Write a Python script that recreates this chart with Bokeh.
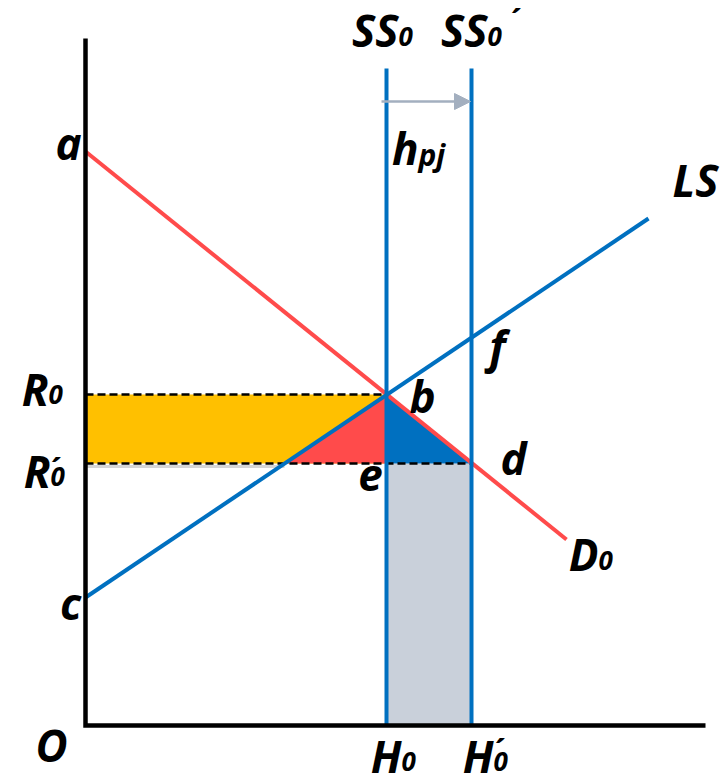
import numpy as np
from bokeh.plotting import figure
from bokeh.models import Range1d, Arrow, NormalHead
from bokeh.core.properties import value
from bokeh.embed import file_html
from bokeh.resources import INLINE

# ---- diagram values (quantity of land on x, rent on y) ----
demand_q = [0, 481]        # D0, starting at intercept a
demand_p = [574, 186]
supply_q = [0, 563]        # LS, starting at intercept c
supply_p = [128, 507]
stock_q = [301, 386]       # H0 (SS0) and H0' (SS0')
rent = [331, 262]          # R0 and R0'
stock_top = 657            # height of the SS lines
q_axis_end = 620
p_axis_end = 687

H0, H1 = stock_q
R0, R1 = rent

# LS quantity at the lower rent R0' (left corner of the red triangle)
ls_at_r1 = np.interp(R1, supply_p, supply_q)

BLUE = "#0070C0"
RED = "#FF4B4B"
YELLOW = "#FFC000"
GREY_FILL = "#C9D0DA"
ARROW_GREY = "#A3AFBF"
FONT = value("Open Sans")

p = figure(width=726, height=784,
           x_range=Range1d(-85, 641), y_range=Range1d(-59, 725),
           x_axis_type=None, y_axis_type=None,
           output_backend="svg", toolbar_location=None,
           min_border=0, outline_line_color=None,
           background_fill_color="white", border_fill_color="white")
p.grid.visible = False

# shaded areas
p.quad(left=[0], right=[H0], bottom=[R1], top=[R0], fill_color=YELLOW, line_color=None)
p.quad(left=[H0], right=[H1], bottom=[0], top=[R1], fill_color=GREY_FILL, line_color=None)
p.patch([ls_at_r1, H0, H0], [R1, R1, R0], fill_color=RED, line_color=None)
p.patch([H0, H0, H1], [R0, R1, R1], fill_color=BLUE, line_color=None)

# faint shadow under the R0' guide
p.line([0, ls_at_r1], [R1 - 3, R1 - 3], line_color="#D5D5D5", line_width=3)

# rent guides
p.line([0, H0], [R0, R0], line_color="black", line_width=2.5, line_dash="8 4")
p.line([0, H1], [R1, R1], line_color="black", line_width=2.5, line_dash="8 4")

# demand, land supply, fixed stocks
p.line(demand_q, demand_p, line_color=RED, line_width=4)
p.line(supply_q, supply_p, line_color=BLUE, line_width=4)
for q in stock_q:
    p.line([q, q], [0, stock_top], line_color=BLUE, line_width=4)

# axes
p.line([0, 0, q_axis_end], [p_axis_end, 0, 0], line_color="black",
       line_width=4.5, line_join="miter")

# shift of the stock
p.add_layout(Arrow(x_start=H0 - 5, y_start=624, x_end=H1 - 1, y_end=624,
                   line_color=ARROW_GREY, line_width=2.5,
                   end=NormalHead(size=16, fill_color=ARROW_GREY, line_color=ARROW_GREY)))

big = dict(text_font=FONT, text_font_style="bold italic",
           text_font_size=value("44px"), text_color="black",
           text_baseline="middle")
small = dict(text_font=FONT, text_font_style="bold italic",
             text_color="black", text_baseline="middle", text_align="left")
acc = dict(text_font=FONT, text_font_style="bold",
           text_font_size=value("30px"), text_color="black",
           text_baseline="middle", text_align="center")

# single letters
p.text(x=[-17, -15, -34, H0 + 36, H0 - 16, H1 + 42, H1 + 26, 610],
       y=[583, 123, -19, R0 - 1, R1 - 11, R1 + 6, 380, 546],
       text=["a", "c", "O", "b", "e", "d", "f", "LS"],
       text_align="center", **big)

# letters with subscripts: right-aligned main part, subscript follows
mains = ["SS", "SS", "h", "H", "H", "R", "R", "D"]
mx = [H0 + 12, H1 + 16, H0 + 32, H0 + 15, H1 + 22, -37, -35, 513]
my = [696, 696, 578, -30, -30, 337, 255, 172]
subs = ["0", "0", "pj", "0", "0", "0", "0", "0"]
sy = [689, 689, 571, -36, -36, 331, 249, 165]
ssize = ["26px", "26px", "30px", "26px", "26px", "26px", "26px", "26px"]
p.text(x=mx, y=sy, text=subs, text_font_size=ssize, **small)
p.text(x=mx, y=my, text=mains, text_align="right", **big)

# primes
p.text(x=[H1 + 45, H1 + 29, -29], y=[705, -25, 256], text=["´", "´", "´"], **acc)

with open("out.html", "w") as f:
    f.write(file_html(p, INLINE))
